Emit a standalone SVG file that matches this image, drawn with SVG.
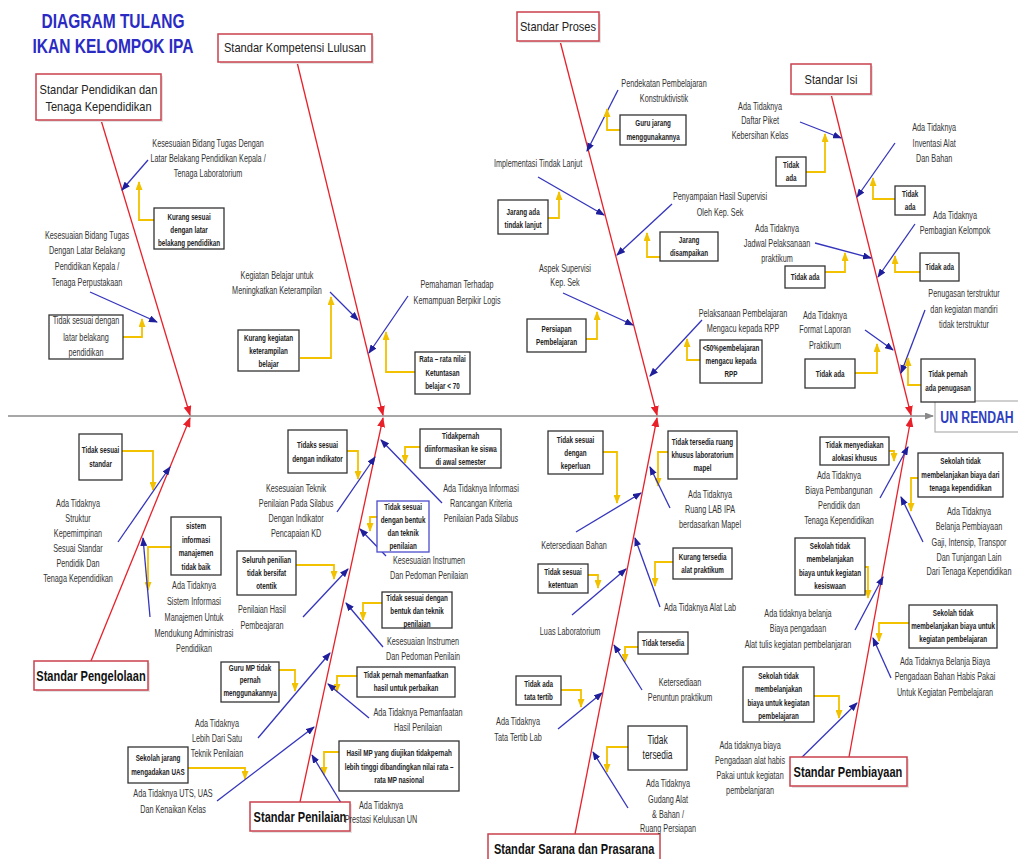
<svg xmlns="http://www.w3.org/2000/svg" width="1018" height="859" viewBox="0 0 1018 859">
<style>
.l{font-family:"Liberation Sans",Arial,sans-serif;font-size:11px;fill:#333;text-anchor:middle;transform-box:fill-box;transform-origin:center;transform:scaleX(.66)}
.t{font-family:"Liberation Sans",Arial,sans-serif;font-size:9px;font-weight:bold;fill:#222;text-anchor:middle;transform-box:fill-box;transform-origin:center;transform:scaleX(.7)}
.tb{font-family:"Liberation Sans",Arial,sans-serif;font-size:12px;fill:#222;text-anchor:middle;transform-box:fill-box;transform-origin:center;transform:scaleX(.7)}
.ct{font-family:"Liberation Sans",Arial,sans-serif;font-size:13px;fill:#222;text-anchor:middle;transform-box:fill-box;transform-origin:center;transform:scaleX(.85)}
.cf{font-family:"Liberation Sans",Arial,sans-serif;font-size:13px;fill:#222;text-anchor:middle}
.cb{font-family:"Liberation Sans",Arial,sans-serif;font-size:14px;font-weight:bold;fill:#111;text-anchor:middle;transform-box:fill-box;transform-origin:center;transform:scaleX(.79)}
.ttl{font-family:"Liberation Sans",Arial,sans-serif;font-size:20px;font-weight:bold;fill:#2b2bc4;text-anchor:middle}
.cat{fill:#fff;stroke:#c9404c;stroke-width:1.5}
.sh{fill:#e4e4e4}
.bx{fill:#fff;stroke:#333;stroke-width:1.3}
.bxb{fill:#fff;stroke:#4a4acc;stroke-width:1.3}
.bone{stroke:#e8202a;stroke-width:1.3;fill:none;marker-end:url(#ra)}
.sub{stroke:#3434bc;stroke-width:1.3;fill:none;marker-end:url(#ba)}
.yl{stroke:#f2c200;stroke-width:1.8;fill:none;marker-end:url(#ya)}
.spine{stroke:#8a8a8a;stroke-width:1.5;fill:none;marker-end:url(#ga)}
</style>
<defs>
<marker id="ra" markerWidth="10" markerHeight="8" refX="9" refY="4" orient="auto" markerUnits="userSpaceOnUse"><path d="M0,0 L10,4 L0,8 z" fill="#e8202a"/></marker>
<marker id="ba" markerWidth="9" markerHeight="7" refX="8" refY="3.5" orient="auto" markerUnits="userSpaceOnUse"><path d="M0,0 L9,3.5 L0,7 z" fill="#1f1f9c"/></marker>
<marker id="ya" markerWidth="9" markerHeight="7" refX="8" refY="3.5" orient="auto" markerUnits="userSpaceOnUse"><path d="M0,0 L9,3.5 L0,7 z" fill="#f2c200"/></marker>
<marker id="ga" markerWidth="9" markerHeight="7" refX="8" refY="3.5" orient="auto" markerUnits="userSpaceOnUse"><path d="M0,0 L9,3.5 L0,7 z" fill="#8a8a8a"/></marker>
</defs>
<rect width="1018" height="859" fill="#fff"/>

<g id="connectors">
<path class="spine" d="M8,416 H933"/>
<path class="bone" d="M101,120 L190,415"/>
<path class="bone" d="M297,62 L383,415"/>
<path class="bone" d="M560,41 L657,415"/>
<path class="bone" d="M831,94 L911,415"/>
<path class="bone" d="M91,661 L190,418"/>
<path class="bone" d="M300,802 L383,418"/>
<path class="bone" d="M575,834 L657,418"/>
<path class="bone" d="M849,757 L911,418"/>

<path class="sub" d="M148,160 L122,190"/>
<path class="yl" d="M154,220 H139 V182"/>
<path class="sub" d="M90,292 L157,322"/>
<path class="yl" d="M123,337 H142 V319"/>

<path class="sub" d="M330,292 L358,320"/>
<path class="yl" d="M300,358 H331 V297"/>
<path class="sub" d="M408,296 L369,353"/>
<path class="yl" d="M415,372 H386 V332"/>

<path class="sub" d="M618,90 L587,151"/>
<path class="yl" d="M620,130 H607 V109"/>
<path class="sub" d="M538,177 L604,215"/>
<path class="yl" d="M548,218 H559 V192"/>
<path class="sub" d="M672,204 L617,255"/>
<path class="yl" d="M660,257 H647 V233"/>
<path class="sub" d="M563,293 L633,325"/>
<path class="yl" d="M586,339 H597 V312"/>
<path class="sub" d="M702,320 L650,376"/>
<path class="yl" d="M700,360 H687 V339"/>

<path class="sub" d="M800,122 L841,138"/>
<path class="yl" d="M806,172 H825 V134"/>
<path class="sub" d="M895,143 L857,197"/>
<path class="yl" d="M895,199 H873 V178"/>
<path class="sub" d="M815,243 L871,258"/>
<path class="yl" d="M825,272 H845 V253"/>
<path class="sub" d="M915,224 L878,277"/>
<path class="yl" d="M920,272 H895 V256"/>
<path class="sub" d="M865,330 L893,350"/>
<path class="yl" d="M855,373 H877 V344"/>
<path class="sub" d="M925,310 L901,373"/>
<path class="yl" d="M921,385 H908 V358"/>

<path class="yl" d="M122,451 H153 V490"/>
<path class="sub" d="M118,542 L170,467"/>
<path class="yl" d="M171,547 H148 V590"/>
<path class="sub" d="M150,617 L143,538"/>

<path class="yl" d="M347,451 H358 V479"/>
<path class="sub" d="M337,512 L375,457"/>
<path class="yl" d="M420,447 H405 V463"/>
<path class="sub" d="M442,503 L381,440"/>
<path class="yl" d="M377,517 H370 V531"/>
<path class="sub" d="M386,556 L360,529"/>
<path class="yl" d="M296,565 H334 V579"/>
<path class="sub" d="M303,617 L348,569"/>
<path class="yl" d="M382,603 H363 V620"/>
<path class="sub" d="M383,647 L346,603"/>
<path class="yl" d="M279,670 H295 V691"/>
<path class="sub" d="M258,738 L330,653"/>
<path class="yl" d="M357,676 H337 V692"/>
<path class="sub" d="M369,718 L328,684"/>
<path class="yl" d="M188,768 H245 V779"/>
<path class="sub" d="M217,801 L314,727"/>
<path class="yl" d="M339,752 H324 V775"/>
<path class="sub" d="M343,806 L312,755"/>

<path class="yl" d="M603,452 H617 V503"/>
<path class="sub" d="M576,532 L641,493"/>
<path class="yl" d="M668,452 H658 V486"/>
<path class="sub" d="M670,508 L650,467"/>
<path class="yl" d="M588,575 H598 V588"/>
<path class="sub" d="M572,615 L626,569"/>
<path class="yl" d="M673,562 H655 V586"/>
<path class="sub" d="M660,607 L635,538"/>
<path class="yl" d="M638,647 H625 V662"/>
<path class="sub" d="M642,690 L614,645"/>
<path class="yl" d="M561,690 H581 V707"/>
<path class="sub" d="M558,729 L602,693"/>
<path class="yl" d="M628,747 H607 V772"/>
<path class="sub" d="M628,808 L593,752"/>

<path class="yl" d="M889,451 H894 V461"/>
<path class="sub" d="M880,498 L908,447"/>
<path class="yl" d="M918,478 H911 V511"/>
<path class="sub" d="M923,542 L901,497"/>
<path class="yl" d="M865,567 H868 V598"/>
<path class="sub" d="M855,630 L883,577"/>
<path class="yl" d="M909,623 H879 V641"/>
<path class="sub" d="M891,678 L873,638"/>
<path class="yl" d="M814,696 H839 V718"/>
<path class="sub" d="M791,768 L857,703"/>
</g>

<g id="title">
<text class="ttl" x="113" y="28" textLength="143" lengthAdjust="spacingAndGlyphs">DIAGRAM TULANG</text>
<text class="ttl" x="113" y="53" textLength="161" lengthAdjust="spacingAndGlyphs">IKAN KELOMPOK IPA</text>
</g>

<g id="effect">
<rect x="935" y="401" width="90" height="31" fill="#fff" stroke="#b0b0b0" stroke-width="1.2"/>
<text x="977" y="423" style="font-family:'Liberation Sans',Arial,sans-serif;font-size:17px;font-weight:bold;fill:#2f3fbf;text-anchor:middle;transform-box:fill-box;transform-origin:center;transform:scaleX(.72)">UN RENDAH</text>
</g>

<g id="cat-pendidikan"><rect class="sh" x="38" y="76" width="125" height="46"/><rect class="cat" x="36" y="74" width="125" height="46"/><text class="ct"><tspan x="98.5" y="94">Standar Pendidikan dan</tspan><tspan x="98.5" y="111">Tenaga Kependidikan</tspan></text></g>
<g id="cat-kompetensi"><rect class="sh" x="220" y="36" width="154" height="28"/><rect class="cat" x="218" y="34" width="154" height="28"/><text class="cf" x="295" y="52" textLength="142" lengthAdjust="spacingAndGlyphs">Standar Kompetensi Lulusan</text></g>
<g id="cat-proses"><rect class="sh" x="519" y="14" width="82" height="29"/><rect class="cat" x="517" y="12" width="82" height="29"/><text class="ct" x="558" y="31">Standar Proses</text></g>
<g id="cat-isi"><rect class="sh" x="793" y="66" width="80" height="30"/><rect class="cat" x="791" y="64" width="80" height="30"/><text class="ct" x="831" y="84">Standar Isi</text></g>
<g id="cat-pengelolaan"><rect class="sh" x="36" y="663" width="114" height="29"/><rect class="cat" x="34" y="661" width="114" height="29"/><text class="cb" x="91" y="681">Standar Pengelolaan</text></g>
<g id="cat-penilaian"><rect class="sh" x="252" y="804" width="100" height="29"/><rect class="cat" x="250" y="802" width="100" height="29"/><text class="cb" x="300" y="822">Standar Penilaian</text></g>
<g id="cat-sarana"><rect class="cat" x="488" y="834" width="172" height="30"/><text class="cb" x="574" y="854">Standar Sarana dan Prasarana</text></g>
<g id="cat-pembiayaan"><rect class="sh" x="792" y="759" width="117" height="29"/><rect class="cat" x="790" y="757" width="117" height="29"/><text class="cb" x="848" y="777">Standar Pembiayaan</text></g>

<g id="l1a"><text class="l"><tspan x="208" y="147">Kesesuaian Bidang Tugas  Dengan</tspan><tspan x="208" y="162">Latar Belakang Pendidikan Kepala /</tspan><tspan x="208" y="177">Tenaga Laboratorium</tspan></text></g>
<g id="b1a"><rect class="bx" x="154" y="208" width="70" height="41"/><text class="t"><tspan x="189" y="220">Kurang sesuai</tspan><tspan x="189" y="233">dengan latar</tspan><tspan x="189" y="246">belakang pendidikan</tspan></text></g>
<g id="l1b"><text class="l"><tspan x="87" y="239">Kesesuaian Bidang Tugas</tspan><tspan x="87" y="254">Dengan Latar Belakang</tspan><tspan x="87" y="270">Pendidikan Kepala /</tspan><tspan x="87" y="286">Tenaga Perpustakaan</tspan></text></g>
<g id="b1b"><rect class="bx" x="49" y="315" width="74" height="44"/><text class="l"><tspan x="86" y="324">Tidak sesuai dengan</tspan><tspan x="86" y="341">latar belakang</tspan><tspan x="86" y="356">pendidikan</tspan></text></g>

<g id="l2a"><text class="l"><tspan x="277" y="279">Kegiatan Belajar untuk</tspan><tspan x="277" y="294">Meningkatkan Keterampilan</tspan></text></g>
<g id="b2a"><rect class="bx" x="238" y="330" width="61" height="41"/><text class="t"><tspan x="268.5" y="341">Kurang kegiatan</tspan><tspan x="268.5" y="354">keterampilan</tspan><tspan x="268.5" y="367">belajar</tspan></text></g>
<g id="l2b"><text class="l"><tspan x="457" y="288">Pemahaman Terhadap</tspan><tspan x="457" y="304">Kemampuan Berpikir Logis</tspan></text></g>
<g id="b2b"><rect class="bx" x="415" y="352" width="55" height="42"/><text class="t"><tspan x="442.5" y="362">Rata – rata nilai</tspan><tspan x="442.5" y="376">Ketuntasan</tspan><tspan x="442.5" y="389">belajar &lt; 70</tspan></text></g>

<g id="l3a"><text class="l"><tspan x="664" y="87">Pendekatan Pembelajaran</tspan><tspan x="664" y="102">Konstruktivistik</tspan></text></g>
<g id="b3a"><rect class="bx" x="620" y="115" width="66" height="30"/><text class="t"><tspan x="653" y="126">Guru jarang</tspan><tspan x="653" y="140">menggunakannya</tspan></text></g>
<g id="l3b"><text class="l" x="538" y="167">Implementasi Tindak Lanjut</text></g>
<g id="b3b"><rect class="bx" x="498" y="200" width="50" height="34"/><text class="t"><tspan x="523" y="215">Jarang ada</tspan><tspan x="523" y="228">tindak lanjut</tspan></text></g>
<g id="l3c"><text class="l"><tspan x="720" y="200">Penyampaian Hasil Supervisi</tspan><tspan x="720" y="216">Oleh Kep. Sek</tspan></text></g>
<g id="b3c"><rect class="bx" x="660" y="232" width="58" height="29"/><text class="t"><tspan x="689" y="243">Jarang</tspan><tspan x="689" y="256">disampaikan</tspan></text></g>
<g id="l3d"><text class="l"><tspan x="565" y="272">Aspek Supervisi</tspan><tspan x="565" y="286">Kep. Sek</tspan></text></g>
<g id="b3d"><rect class="bx" x="527" y="319" width="59" height="33"/><text class="t"><tspan x="556.5" y="332">Persiapan</tspan><tspan x="556.5" y="345">Pembelajaran</tspan></text></g>
<g id="l3e"><text class="l"><tspan x="743" y="317">Pelaksanaan Pembelajaran</tspan><tspan x="743" y="332">Mengacu kepada RPP</tspan></text></g>
<g id="b3e"><rect class="bx" x="700" y="340" width="62" height="43"/><text class="t"><tspan x="731" y="351">&lt;50%pembelajaran</tspan><tspan x="731" y="364">mengacu kepada</tspan><tspan x="731" y="377">RPP</tspan></text></g>

<g id="l4a"><text class="l"><tspan x="760" y="110">Ada Tidaknya</tspan><tspan x="760" y="124">Daftar Piket</tspan><tspan x="760" y="139">Kebersihan Kelas</tspan></text></g>
<g id="b4a"><rect class="bx" x="776" y="157" width="30" height="29"/><text class="t"><tspan x="791" y="168">Tidak</tspan><tspan x="791" y="181">ada</tspan></text></g>
<g id="l4b"><text class="l"><tspan x="934" y="131">Ada Tidaknya</tspan><tspan x="934" y="147">Inventasi Alat</tspan><tspan x="934" y="162">Dan Bahan</tspan></text></g>
<g id="b4b"><rect class="bx" x="895" y="186" width="30" height="29"/><text class="t"><tspan x="910" y="197">Tidak</tspan><tspan x="910" y="210">ada</tspan></text></g>
<g id="l4c"><text class="l"><tspan x="777" y="232">Ada Tidaknya</tspan><tspan x="777" y="247">Jadwal Pelaksanaan</tspan><tspan x="777" y="262">praktikum</tspan></text></g>
<g id="b4c"><rect class="bx" x="785" y="266" width="40" height="22"/><text class="t" x="805" y="280">Tidak ada</text></g>
<g id="l4d"><text class="l"><tspan x="955" y="219">Ada Tidaknya</tspan><tspan x="955" y="234">Pembagian Kelompok</tspan></text></g>
<g id="b4d"><rect class="bx" x="920" y="253" width="39" height="28"/><text class="t" x="939.5" y="270">Tidak ada</text></g>
<g id="l4e"><text class="l"><tspan x="825" y="319">Ada Tidaknya</tspan><tspan x="825" y="333">Format Laporan</tspan><tspan x="825" y="349">Praktikum</tspan></text></g>
<g id="b4e"><rect class="bx" x="805" y="359" width="50" height="29"/><text class="t" x="830" y="377">Tidak ada</text></g>
<g id="l4f"><text class="l"><tspan x="964" y="297">Penugasan terstruktur</tspan><tspan x="964" y="313">dan kegiatan mandiri</tspan><tspan x="964" y="328">tidak terstruktur</tspan></text></g>
<g id="b4f"><rect class="bx" x="921" y="359" width="54" height="43"/><text class="t"><tspan x="948" y="377">Tidak pernah</tspan><tspan x="948" y="391">ada penugasan</tspan></text></g>

<g id="b5a"><rect class="bx" x="79" y="434" width="43" height="46"/><text class="t"><tspan x="100.5" y="453">Tidak sesuai</tspan><tspan x="100.5" y="467">standar</tspan></text></g>
<g id="l5a"><text class="l"><tspan x="78" y="507">Ada Tidaknya</tspan><tspan x="78" y="522">Struktur</tspan><tspan x="78" y="537">Kepemimpinan</tspan><tspan x="78" y="552">Sesuai Standar</tspan><tspan x="78" y="567">Pendidik Dan</tspan><tspan x="78" y="582">Tenaga Kependidikan</tspan></text></g>
<g id="b5b"><rect class="bx" x="171" y="517" width="50" height="58"/><text class="t"><tspan x="196" y="529">sistem</tspan><tspan x="196" y="543">informasi</tspan><tspan x="196" y="556">manajemen</tspan><tspan x="196" y="570">tidak baik</tspan></text></g>
<g id="l5b"><text class="l"><tspan x="194" y="589">Ada Tidaknya</tspan><tspan x="194" y="605">Sistem Informasi</tspan><tspan x="194" y="621">Manajemen Untuk</tspan><tspan x="194" y="637">Mendukung Administrasi</tspan><tspan x="194" y="652">Pendidikan</tspan></text></g>

<g id="b6a"><rect class="bx" x="288" y="430" width="59" height="43"/><text class="t"><tspan x="317.5" y="448">Tidaks sesuai</tspan><tspan x="317.5" y="462">dengan indikator</tspan></text></g>
<g id="l6a"><text class="l"><tspan x="296" y="492">Kesesuaian Teknik</tspan><tspan x="296" y="507">Penilaian Pada Silabus</tspan><tspan x="296" y="522">Dengan Indikator</tspan><tspan x="296" y="537">Pencapaian KD</tspan></text></g>
<g id="b6b"><rect class="bx" x="420" y="429" width="81" height="39"/><text class="t"><tspan x="460.5" y="439">Tidakpernah</tspan><tspan x="460.5" y="452">diinformasikan ke siswa</tspan><tspan x="460.5" y="465">di awal semester</tspan></text></g>
<g id="l6b"><text class="l"><tspan x="481" y="492">Ada Tidaknya Informasi</tspan><tspan x="481" y="507">Rancangan Kriteria</tspan><tspan x="481" y="522">Penilaian Pada Silabus</tspan></text></g>
<g id="b6c"><rect class="bxb" x="377" y="501" width="52" height="51"/><text class="t"><tspan x="403" y="510">Tidak sesuai</tspan><tspan x="403" y="523">dengan bentuk</tspan><tspan x="403" y="536">dan teknik</tspan><tspan x="403" y="549">penilaian</tspan></text></g>
<g id="l6c"><text class="l"><tspan x="429" y="564">Kesesuaian Instrumen</tspan><tspan x="429" y="579">Dan Pedoman Penilaian</tspan></text></g>
<g id="b6d"><rect class="bx" x="237" y="551" width="59" height="44"/><text class="t"><tspan x="266.5" y="563">Seluruh penilian</tspan><tspan x="266.5" y="576">tidak bersifat</tspan><tspan x="266.5" y="589">otentik</tspan></text></g>
<g id="l6d"><text class="l"><tspan x="262" y="613">Penilaian Hasil</tspan><tspan x="262" y="629">Pembeajaran</tspan></text></g>
<g id="b6e"><rect class="bx" x="382" y="592" width="70" height="36"/><text class="t"><tspan x="417" y="601">Tidak sesuai dengan</tspan><tspan x="417" y="614">bentuk dan teknik</tspan><tspan x="417" y="627">penilaian</tspan></text></g>
<g id="l6e"><text class="l"><tspan x="423" y="645">Kesesuaian Instrumen</tspan><tspan x="423" y="660">Dan Pedoman Penilain</tspan></text></g>
<g id="b6f"><rect class="bx" x="221" y="662" width="58" height="40"/><text class="t"><tspan x="250" y="671">Guru MP tidak</tspan><tspan x="250" y="683">pernah</tspan><tspan x="250" y="696">menggunakannya</tspan></text></g>
<g id="l6f"><text class="l"><tspan x="217" y="727">Ada Tidaknya</tspan><tspan x="217" y="742">Lebih Dari Satu</tspan><tspan x="217" y="757">Teknik Penilaian</tspan></text></g>
<g id="b6g"><rect class="bx" x="357" y="667" width="98" height="30"/><text class="t"><tspan x="406" y="678">Tidak pernah memanfaatkan</tspan><tspan x="406" y="691">hasil untuk perbaikan</tspan></text></g>
<g id="l6g"><text class="l"><tspan x="418" y="716">Ada Tidaknya Pemanfaatan</tspan><tspan x="418" y="731">Hasil Penilaian</tspan></text></g>
<g id="b6h"><rect class="bx" x="128" y="747" width="60" height="36"/><text class="t"><tspan x="158" y="761">Sekolah jarang</tspan><tspan x="158" y="775">mengadakan UAS</tspan></text></g>
<g id="l6h"><text class="l"><tspan x="173" y="797">Ada Tidaknya UTS, UAS</tspan><tspan x="173" y="813">Dan Kenaikan Kelas</tspan></text></g>
<g id="b6i"><rect class="bx" x="339" y="741" width="120" height="50"/><text class="t"><tspan x="399" y="756">Hasil MP yang diujikan tidakpernah</tspan><tspan x="399" y="770">lebih tinggi dibandingkan nilai rata –</tspan><tspan x="399" y="783">rata MP nasional</tspan></text></g>
<g id="l6i"><text class="l"><tspan x="381" y="809">Ada Tidaknya</tspan><tspan x="381" y="823">Prestasi Kelulusan UN</tspan></text></g>

<g id="b7a"><rect class="bx" x="548" y="431" width="55" height="43"/><text class="t"><tspan x="575.5" y="443">Tidak sesuai</tspan><tspan x="575.5" y="456">dengan</tspan><tspan x="575.5" y="469">keperluan</tspan></text></g>
<g id="l7a"><text class="l" x="574" y="549">Ketersediaan Bahan</text></g>
<g id="b7b"><rect class="bx" x="668" y="431" width="69" height="48"/><text class="t"><tspan x="702.5" y="445">Tidak tersedia ruang</tspan><tspan x="702.5" y="458">khusus laboratorium</tspan><tspan x="702.5" y="471">mapel</tspan></text></g>
<g id="l7b"><text class="l"><tspan x="710" y="498">Ada Tidaknya</tspan><tspan x="710" y="513">Ruang LAB IPA</tspan><tspan x="710" y="528">berdasarkan Mapel</tspan></text></g>
<g id="b7c"><rect class="bx" x="538" y="564" width="50" height="29"/><text class="t"><tspan x="563" y="575">Tidak sesuai</tspan><tspan x="563" y="588">ketentuan</tspan></text></g>
<g id="l7c"><text class="l" x="570" y="635">Luas Laboratorium</text></g>
<g id="b7d"><rect class="bx" x="673" y="548" width="59" height="31"/><text class="t"><tspan x="702.5" y="560">Kurang tersedia</tspan><tspan x="702.5" y="573">alat praktikum</tspan></text></g>
<g id="l7d"><text class="l" x="700" y="611">Ada Tidaknya Alat Lab</text></g>
<g id="b7e"><rect class="bx" x="638" y="632" width="50" height="22"/><text class="t" x="663" y="646">Tidak tersedia</text></g>
<g id="l7e"><text class="l"><tspan x="680" y="686">Ketersediaan</tspan><tspan x="680" y="701">Penuntun praktikum</tspan></text></g>
<g id="b7f"><rect class="bx" x="516" y="676" width="45" height="29"/><text class="t"><tspan x="538.5" y="687">Tidak ada</tspan><tspan x="538.5" y="700">tata tertib</tspan></text></g>
<g id="l7f"><text class="l"><tspan x="518" y="725">Ada Tidaknya</tspan><tspan x="518" y="741">Tata Tertib Lab</tspan></text></g>
<g id="b7g"><rect class="bx" x="628" y="726" width="59" height="44"/><text class="tb"><tspan x="657.5" y="744">Tidak</tspan><tspan x="657.5" y="759">tersedia</tspan></text></g>
<g id="l7g"><text class="l"><tspan x="668" y="787">Ada Tidaknya</tspan><tspan x="668" y="803">Gudang Alat</tspan><tspan x="668" y="818">&amp; Bahan /</tspan><tspan x="668" y="832">Ruang Persiapan</tspan></text></g>

<g id="b8a"><rect class="bx" x="820" y="437" width="69" height="28"/><text class="t"><tspan x="854.5" y="448">Tidak menyediakan</tspan><tspan x="854.5" y="461">alokasi khusus</tspan></text></g>
<g id="l8a"><text class="l"><tspan x="839" y="479">Ada Tidaknya</tspan><tspan x="839" y="494">Biaya Pembangunan</tspan><tspan x="839" y="509">Pendidik dan</tspan><tspan x="839" y="524">Tenaga Kependidikan</tspan></text></g>
<g id="b8b"><rect class="bx" x="918" y="453" width="85" height="44"/><text class="t"><tspan x="960.5" y="464">Sekolah tidak</tspan><tspan x="960.5" y="478">membelanjakan biaya dari</tspan><tspan x="960.5" y="491">tenaga kependidikan</tspan></text></g>
<g id="l8b"><text class="l"><tspan x="969" y="515">Ada Tidaknya</tspan><tspan x="969" y="530">Belanja Pembiayaan</tspan><tspan x="969" y="546">Gaji, Intensip, Transpor</tspan><tspan x="969" y="561">Dan Tunjangan Lain</tspan><tspan x="969" y="575">Dari Tenaga Kependidikan</tspan></text></g>
<g id="b8c"><rect class="bx" x="795" y="538" width="70" height="57"/><text class="t"><tspan x="830" y="549">Sekolah tidak</tspan><tspan x="830" y="562">membelanjakan</tspan><tspan x="830" y="576">biaya untuk kegiatan</tspan><tspan x="830" y="589">kesiswaan</tspan></text></g>
<g id="l8c"><text class="l"><tspan x="798" y="617">Ada tidaknya belanja</tspan><tspan x="798" y="632">Biaya pengadaan</tspan><tspan x="798" y="648">Alat tulis kegiatan pembelanjaran</tspan></text></g>
<g id="b8d"><rect class="bx" x="909" y="605" width="88" height="43"/><text class="t"><tspan x="953" y="616">Sekolah tidak</tspan><tspan x="953" y="629">membelanjakan biaya untuk</tspan><tspan x="953" y="642">kegiatan pembelajaran</tspan></text></g>
<g id="l8d"><text class="l"><tspan x="945" y="665">Ada Tidaknya Belanja  Biaya</tspan><tspan x="945" y="680">Pengadaan Bahan Habis Pakai</tspan><tspan x="945" y="696">Untuk Kegiatan Pembelajaran</tspan></text></g>
<g id="b8e"><rect class="bx" x="743" y="667" width="71" height="55"/><text class="t"><tspan x="778.5" y="679">Sekolah tidak</tspan><tspan x="778.5" y="692">membelanjakan</tspan><tspan x="778.5" y="706">biaya untuk kegiatan</tspan><tspan x="778.5" y="719">pembelajaran</tspan></text></g>
<g id="l8e"><text class="l"><tspan x="750" y="749">Ada tidaknya biaya</tspan><tspan x="750" y="764">Pengadaan alat habis</tspan><tspan x="750" y="779">Pakai untuk kegiatan</tspan><tspan x="750" y="794">pembelanjaran</tspan></text></g>
</svg>
